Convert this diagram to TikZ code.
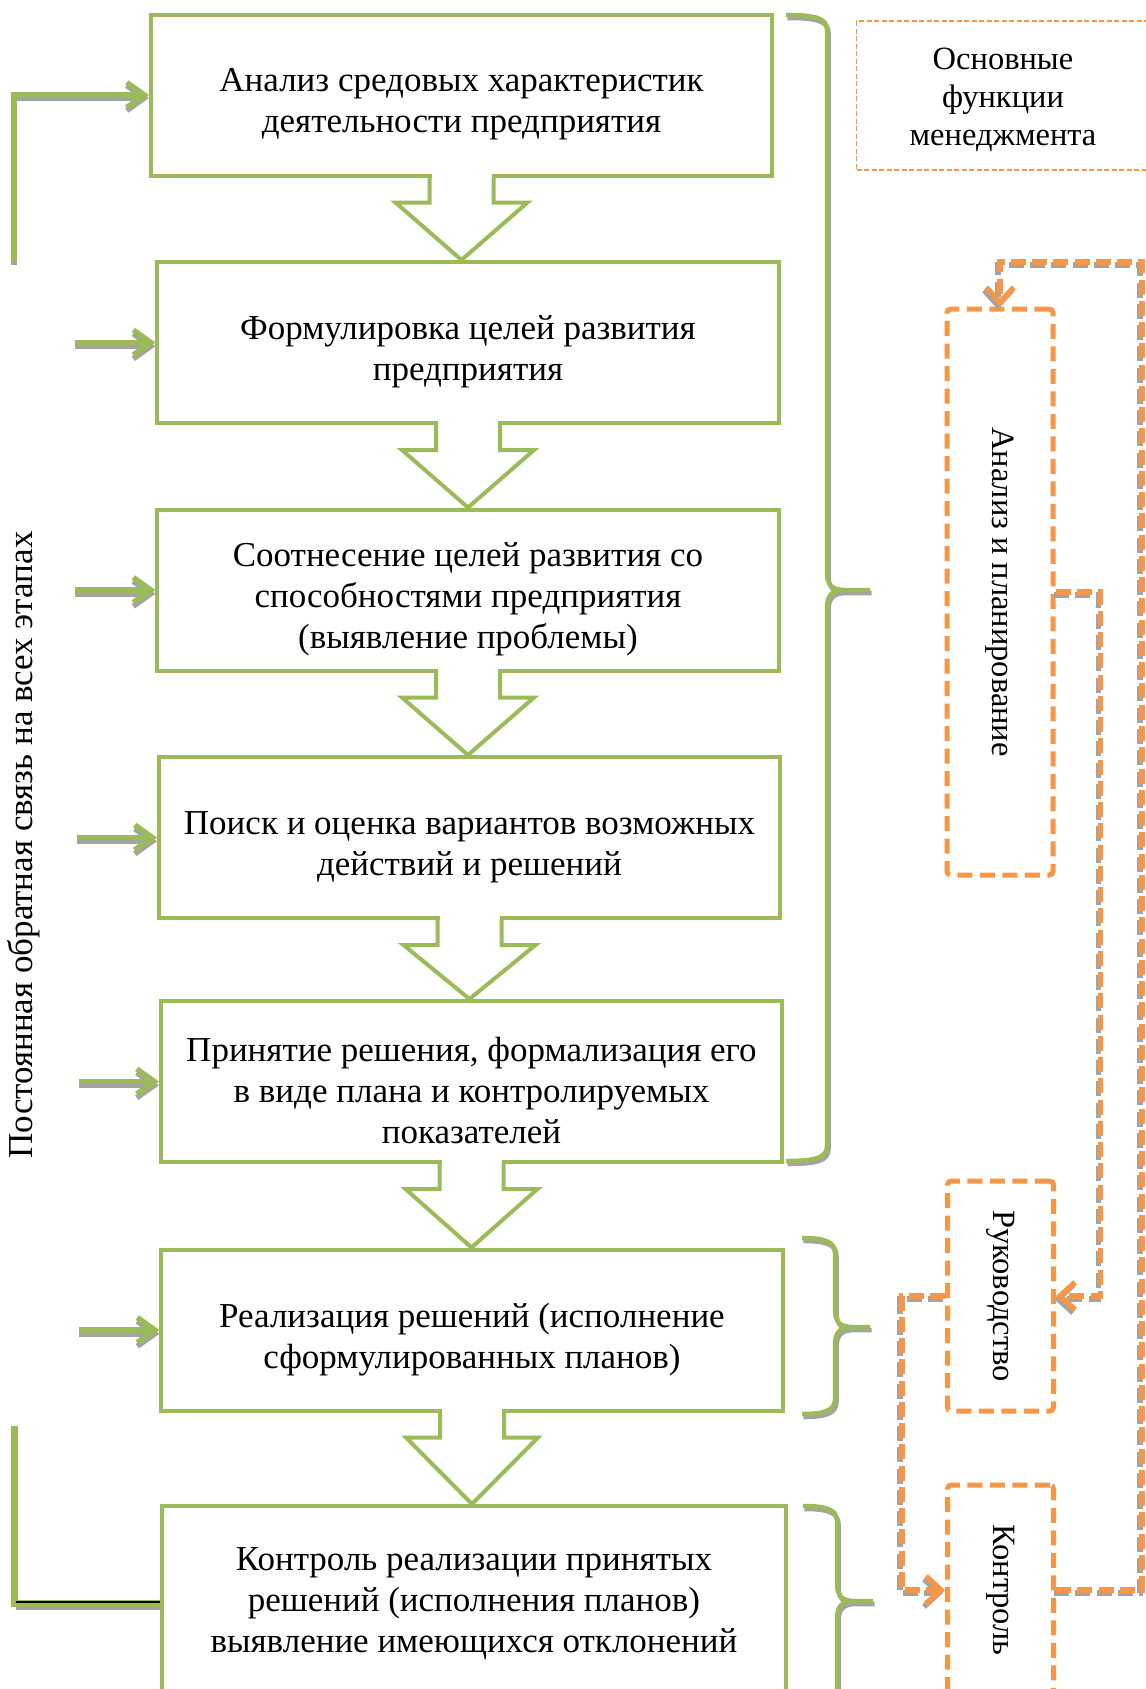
\documentclass[tikz,border=0pt]{standalone}
\usepackage{fontspec}
\usepackage{graphicx}
\setmainfont{Liberation Serif}
\usetikzlibrary{arrows.meta,calc}

\definecolor{ogreen}{HTML}{9BBB59}
\definecolor{oorange}{HTML}{F79646}
\definecolor{shgrey}{HTML}{A3A3A3}

\tikzset{
  txt/.style={font=\fontsize{14pt}{16.4pt}\selectfont, text=black},
  smalltxt/.style={font=\fontsize{13pt}{15.2pt}\selectfont, text=black},
  stagebox/.style={draw=ogreen, line width=1.6pt, minimum width=248.4pt,
    minimum height=64.4pt, inner sep=0pt},
  stagetext/.style={txt, align=center, inner sep=0pt},
  downarrow/.style={draw=ogreen, line width=1.6pt, line join=miter},
  feedarrow/.style={draw=ogreen, line width=2.2pt,
    -{Straight Barb[length=7pt,width=10pt]}},
  feedline/.style={draw=ogreen, line width=2.8pt},
  bracestyle/.style={draw=ogreen, line width=1.8pt, line cap=butt},
  funcbox/.style={smalltxt, draw=oorange, line width=2pt, dash pattern=on 6pt off 3pt,
    minimum width=42.4pt, inner sep=0pt, rounded corners=1.5pt},
  titlebox/.style={draw=oorange, line width=0.6pt, dash pattern=on 2pt off 1pt,
    minimum width=117.2pt, minimum height=59.6pt, inner sep=0pt},
  funcconn/.style={draw=oorange, line width=2.2pt, dash pattern=on 6pt off 2.5pt,
    -{Straight Barb[length=6pt,width=11pt]}},
}

% draw a path once in grey (shifted) and once in its own colour
\newcommand\shadowdraw[3]{%
  \draw[#1, draw=shgrey, transform canvas={shift={#2}}] #3;
  \draw[#1] #3;}

% stage box with its text set a little below the centre: [options] name, position, text
\newcommand\stage[4][]{%
  \node[stagebox,#1] (#2) at #3 {};
  \node[stagetext] (#2-text) at ([yshift=-3.8pt]#2.center) {#4};}

% block arrow from the bottom of one stage box to the top of the next
\newcommand\stagearrow[2]{%
  \fill[white] ($(#1.south)+(-30,-4)$) rectangle ($(#1.south)+(30,4)$);
  \draw[downarrow] ($(#1.south)+(-32,0)$) -- ++(0,25) -- ++(-34,0)
    -- (#1.south |- #2.north) -- ($(#1.south)+(66,25)$) -- ++(-34,0)
    -- ($(#1.south)+(32,0)$);}

% right curly brace: x start, x spine, x tip, y top, y tip, y bottom
\newcommand\greenbrace[6]{%
  \shadowdraw{bracestyle}{(0.6pt,-1.2pt)}{(#1,#4) .. controls ({#2-12},#4) and (#2,{#4+3}) .. (#2,{#4+15})
    -- (#2,{#5-18}) .. controls (#2,{#5-5}) and ({#2+5},#5) .. ({#2+18},#5) -- (#3,#5)
    ({#2+18},#5) .. controls ({#2+5},#5) and (#2,{#5+5}) .. (#2,{#5+18})
    -- (#2,{#6-15}) .. controls (#2,{#6-3}) and ({#2-12},#6) .. (#1,#6)}}

\begin{document}
\begin{tikzpicture}[x=0.4pt,y=-0.4pt]
\useasboundingbox (0,0) rectangle (1146,1689);
\clip (0,0) rectangle (1146,1689);

% stages of the process
\stage{s1}{(461.5,95)}{Анализ средовых характеристик\\деятельности предприятия}
\stage{s2}{(468,342.5)}{Формулировка целей развития\\предприятия}
\stage{s3}{(468,590)}{Соотнесение целей развития со\\способностями предприятия\\(выявление проблемы)}
\stage{s4}{(469.5,837.5)}{Поиск и оценка вариантов возможных\\действий и решений}
\stage{s5}{(471.5,1081.5)}{Принятие решения, формализация его\\в виде плана и контролируемых\\показателей}
\stage{s6}{(472,1330)}{Реализация решений (исполнение\\сформулированных планов)}
\node[stagebox, minimum width=249.6pt, minimum height=77.6pt] (s7) at (474,1603) {};
\node[stagetext] (s7-text) at (474,1604)
  {Контроль реализации принятых\\решений (исполнения планов)\\выявление имеющихся отклонений};

\stagearrow{s1}{s2}
\stagearrow{s2}{s3}
\stagearrow{s3}{s4}
\stagearrow{s4}{s5}
\stagearrow{s5}{s6}
\stagearrow{s6}{s7}

% feedback on the left
\node[txt] (fbtext) at (24,845) {\rotatebox{90}{Постоянная обратная связь на всех этапах}};
\coordinate (fbtop) at (14,262);
\coordinate (fbbot) at (14,1426);
\shadowdraw{feedarrow}{(0pt,-1.2pt)}{(fbtop) |- (s1.west)}
\foreach \s in {s2,s3,s4,s5,s6}{
  \shadowdraw{feedarrow}{(0pt,-1.5pt)}{($(\s.west)+(-80,0)$) -- (\s.west)}
}
\draw[feedline, draw=shgrey, transform canvas={shift={(0pt,-1.4pt)}}] ($(fbbot |- s7.west)+(2,0)$) -- (s7.west);
\draw[feedline] (fbbot) |- (s7.west);
\draw[black, line width=1pt] ($(fbbot |- s7.west)+(2,-1)$) -- ($(s7.west)+(0,-1)$);

% braces grouping the stages
\greenbrace{786}{827}{870}{15}{590}{1161}
\greenbrace{802}{835}{870}{1238}{1327}{1414}
\greenbrace{803}{837}{873}{1506}{1601}{1780}

% management functions
\node[titlebox] (title) at (1003,95.5) {};
\node[smalltxt, align=center, inner sep=0pt] (title-text) at ([yshift=-1.9pt]title.center) {Основные\\функции\\менеджмента};
\node[funcbox, minimum height=226.4pt] (analiz) at (1000,592) {\rotatebox{-90}{Анализ и планирование}};
\node[funcbox, minimum height=92pt] (ruk) at (1000.5,1296) {\rotatebox{-90}{Руководство}};
\node[funcbox, minimum height=84pt] (kontrol) at (1000.5,1590) {\rotatebox{-90}{Контроль}};

\coordinate (loopR) at (1142,262);
\shadowdraw{funcconn}{(-0.8pt,-1.2pt)}{(kontrol.east) -| (loopR) -| (analiz.north)}
\shadowdraw{funcconn}{(-0.8pt,-1.2pt)}{(analiz.east) -- ++(45,0) |- (ruk.east)}
\shadowdraw{funcconn}{(-0.8pt,-1.2pt)}{(ruk.west) -- ++(-43,0) |- (kontrol.west)}
\end{tikzpicture}
\end{document}
